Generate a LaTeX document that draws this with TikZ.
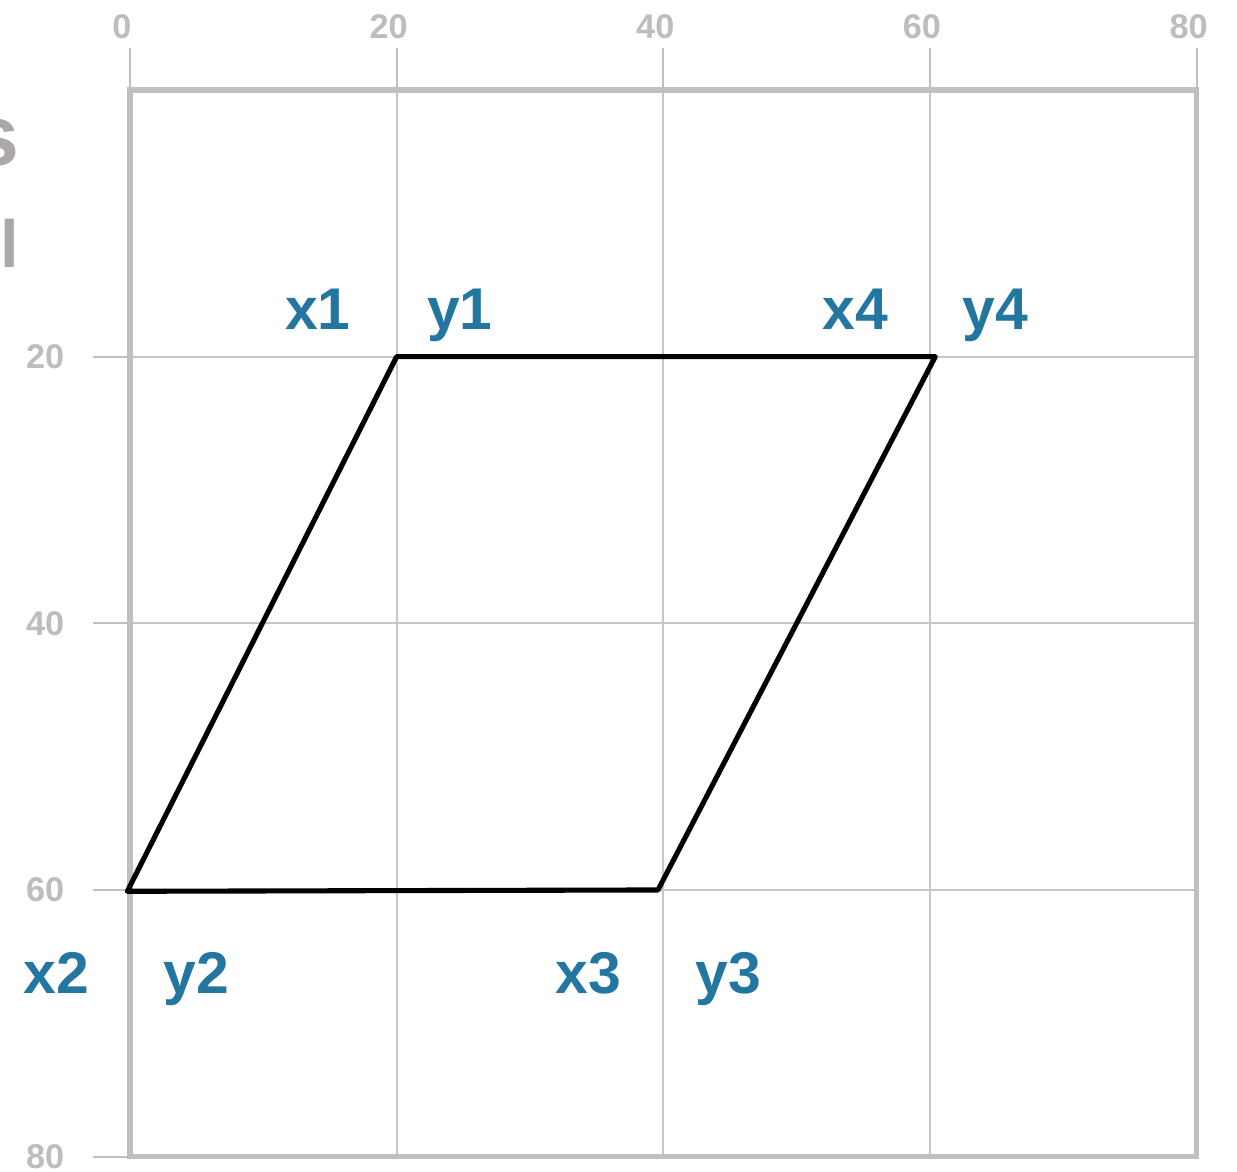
\documentclass[tikz,border=0pt]{standalone}
\usepackage{fontspec}
\setmainfont{Liberation Sans}
\usepackage{xcolor}
\usepackage{tikz}
\usetikzlibrary{positioning}
\definecolor{ggrid}{HTML}{C6C6C6}
\definecolor{gframe}{HTML}{C0C0C0}
\definecolor{gtext}{HTML}{BDBDBD}
\definecolor{gcut}{HTML}{ABA7AB}
\definecolor{lblue}{HTML}{23769F}

\begin{document}
\begin{tikzpicture}[
  x=0.2667cm,y=-0.2667cm,
  every node/.style={font=\bfseries,inner sep=0pt},
  gridline/.style={ggrid,line width=1.2pt},
  tick/.style={gframe,line width=1.2pt},
  ticklbl/.style={text=gtext,font=\bfseries\fontsize{19.5}{22}\selectfont},
  ptlbl/.style={text=lblue,anchor=base,font=\bfseries\fontsize{33.5}{38}\selectfont},
  quadline/.style={black,line width=2.9pt,line join=round}
]
\useasboundingbox (-9.75,-6.75) rectangle (83.03,81.15);
% cut-off text at the left edge
\node[text=gcut,anchor=base east,font=\bfseries\fontsize{49}{50}\selectfont] (cuts) at (-8.28,5.63) {s};
\node[text=gcut,anchor=base east,font=\bfseries\fontsize{38}{40}\selectfont] (cutl) at (-8.3,13.35) {l};
% grid
\foreach \v in {20,40,60} {
  \draw[gridline] (\v,0) -- (\v,80);
  \draw[gridline] (0,\v) -- (80,\v);
}
% ticks and labels
\foreach \v in {0,20,40,60,80} {
  \draw[tick] (\v,-3.15) -- (\v,0);
  \node[ticklbl] (top\v) at (\v-0.6,-4.73) {\v};
}
\foreach \v in {20,40,60,80} {
  \draw[tick] (-2.8,\v) -- (0,\v);
  \node[ticklbl,anchor=east] (left\v) at (-4.9,\v) {\v};
}
\draw[gframe,line width=3.2pt] (0,0) rectangle (80,80);
% parallelogram
\coordinate (p1) at (20,20);
\coordinate (p2) at (-0.2,60.1);
\coordinate (p3) at (39.6,60);
\coordinate (p4) at (60.4,20);
\draw[quadline] (p1) -- (p2) -- (p3) -- (p4) -- cycle;
% point labels
\node[ptlbl] (x1) at (14.1,18.0) {x1};
\node[ptlbl] (y1) at (24.75,18.0) {y1};
\node[ptlbl] (x4) at (54.4,18.0) {x4};
\node[ptlbl] (y4) at (64.9,18.0) {y4};
\node[ptlbl] (x2) at (-5.5,67.8) {x2};
\node[ptlbl] (y2) at (5.0,67.8) {y2};
\node[ptlbl] (x3) at (34.4,67.8) {x3};
\node[ptlbl] (y3) at (44.9,67.8) {y3};
\end{tikzpicture}
\end{document}
